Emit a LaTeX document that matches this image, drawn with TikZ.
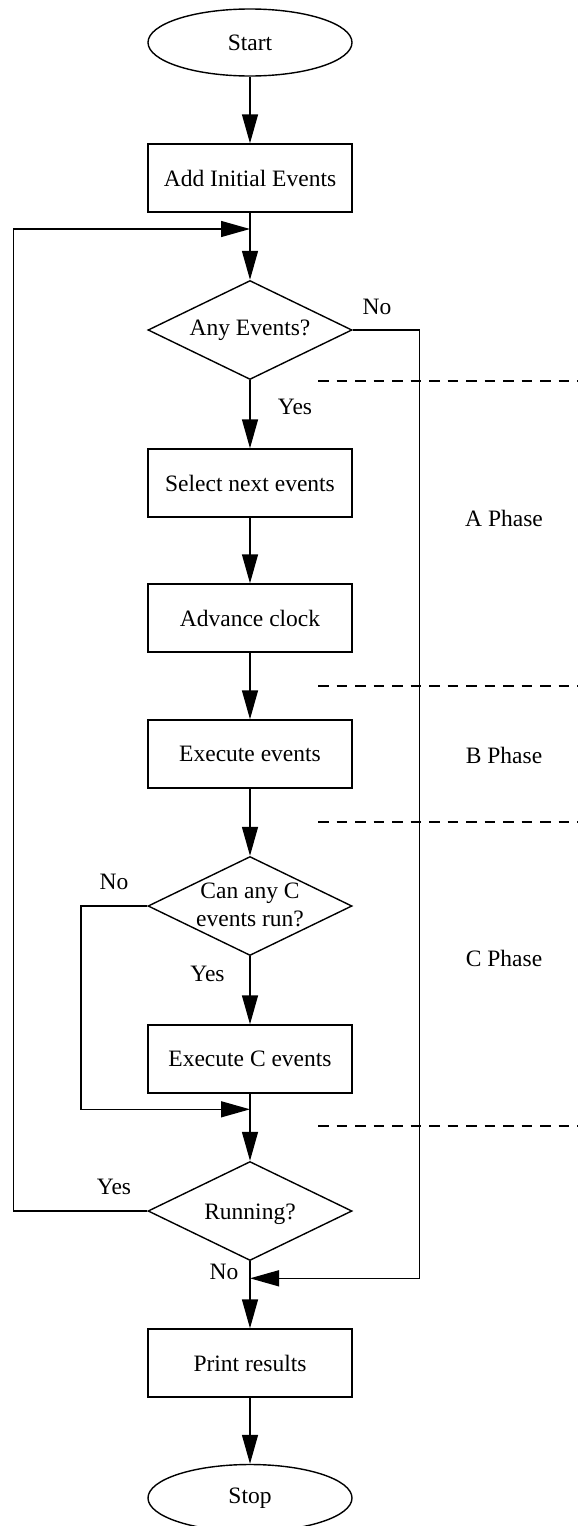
\documentclass[tikz,border=0pt]{standalone}
\usepackage{fontspec}
\setmainfont{Liberation Serif}
\usetikzlibrary{shapes.geometric,arrows.meta}
\begin{document}
\begin{tikzpicture}[x=1pt,y=-1pt,line width=1.4pt,
  every node/.style={font=\fontsize{23.5}{27.6}\selectfont},
  box/.style={draw,rectangle,minimum width=204pt,minimum height=68pt,inner sep=0pt},
  term/.style={draw,ellipse,minimum width=204pt,minimum height=67pt,inner sep=0pt},
  dec/.style={draw,diamond,minimum width=204pt,minimum height=99pt,inner sep=0pt},
  lab/.style={inner sep=0pt,align=center},
  arr/.style={-{Triangle[length=29pt,width=16pt]}},
  sep/.style={line width=1.2pt,dash pattern=on 10.5pt off 8pt}]
\useasboundingbox (0,0) rectangle (578,1526);
% nodes
\node[term] (start) at (250,42.5) {Start};
\node[box] (init) at (250,178) {Add Initial Events};
\node[dec] (d1) at (250,330) {};
\node[lab] (d1t) at (d1) {Any Events?};
\node[box] (sel) at (250,483) {Select next events};
\node[box] (adv) at (250,618) {Advance clock};
\node[box] (exe) at (250,754) {Execute events};
\node[dec] (d2) at (250,906) {};
\node[lab] (d2t) at (250,905) {Can any C\\events run?};
\node[box] (exc) at (250,1059) {Execute C events};
\node[dec] (d3) at (250,1211) {};
\node[lab] (d3t) at (250,1214) {Running?};
\node[box] (prn) at (250,1363) {Print results};
\node[term] (stop) at (250,1498) {Stop};
% labels
\node[lab] (no1) at (377,307) {No};
\node[lab] (yes1) at (295,407) {Yes};
\node[lab] (no2) at (114,882) {No};
\node[lab] (yes2) at (207.5,974) {Yes};
\node[lab] (yes3) at (114,1187) {Yes};
\node[lab] (no3) at (224,1272) {No};
\node[lab] (pa) at (504,518) {A Phase};
\node[lab] (pb) at (504,755) {B Phase};
\node[lab] (pc) at (504,958) {C Phase};
% junction coordinates
\coordinate (j1) at (250,229);
\coordinate (l1) at (13.3,229);
\coordinate (j2) at (250,1109.3);
\coordinate (l2) at (81,1109.3);
\coordinate (j4) at (250,1278.3);
\coordinate (r1) at (419.3,1278.3);
% connectors
\draw[arr] (start) -- (init);
\draw[arr] (init) -- (d1);
\draw[arr] (d1) -- (sel);
\draw[arr] (sel) -- (adv);
\draw[arr] (adv) -- (exe);
\draw[arr] (exe) -- (d2);
\draw[arr] (d2) -- (exc);
\draw[arr] (exc) -- (d3);
\draw[arr] (d3) -- (prn);
\draw[arr] (prn) -- (stop);
\draw[arr] (d3.west) -| (l1) -- (j1);
\draw[arr] (d2.west) -| (l2) -- (j2);
\draw[arr] (d1.east) -| (r1) -- (j4);
% phase separators
\draw[sep] (318,381) -- (578,381);
\draw[sep] (318,686) -- (578,686);
\draw[sep] (318,822) -- (578,822);
\draw[sep] (318,1126) -- (578,1126);
\end{tikzpicture}
\end{document}
